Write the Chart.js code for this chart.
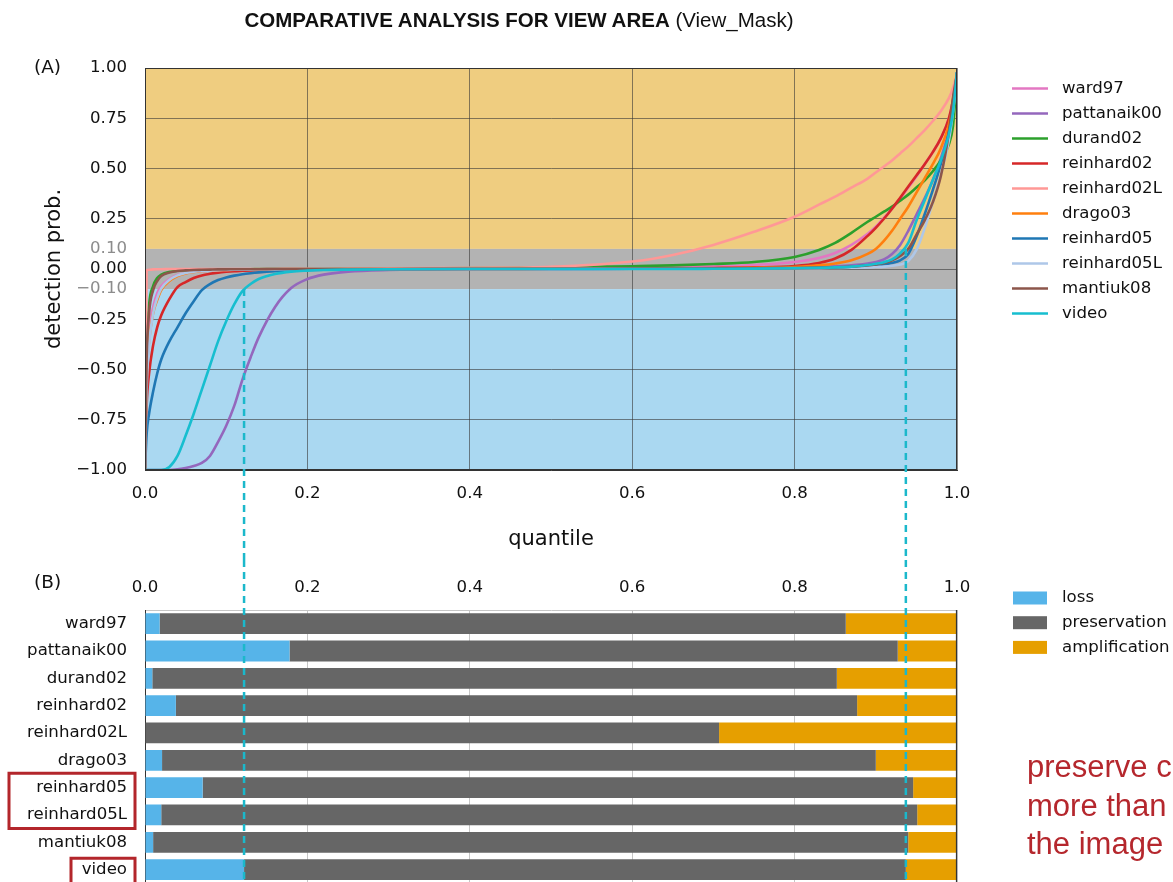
<!DOCTYPE html>
<html>
<head>
<meta charset="utf-8">
<title>Comparative analysis for view area</title>
<script src="https://cdn.jsdelivr.net/npm/chart.js@4.4.1/dist/chart.umd.min.js"></script>
<style>
  html, body { margin: 0; padding: 0; background: #fff; overflow: hidden; }
  #page { position: relative; width: 1173px; height: 882px; overflow: hidden; font-family: 'DejaVu Sans', sans-serif; color: #111; }
  #title { position: absolute; top: 8px; left: 0; width: 1038px; text-align: center; white-space: nowrap;
           font-family: 'Liberation Sans', Arial, sans-serif; font-size: 20.5px; line-height: 24px; color: #111; }
  #title b { font-weight: bold; }
  .panel { position: absolute; left: 34px; font-size: 18.5px; line-height: 20px; }
  #note { position: absolute; left: 1027px; top: 748px; white-space: nowrap;
          font-family: 'Liberation Sans', Arial, sans-serif; font-size: 31px; line-height: 38.5px; color: #b5272d; }
  canvas { position: absolute; left: 0; }
  #chartA { top: 0; }
  #chartB { top: 560px; }
</style>
</head>
<body>
<div id="page">
  <canvas id="chartA" width="1173" height="560"></canvas>
  <canvas id="chartB" width="1173" height="330"></canvas>
  <div id="title"><b>COMPARATIVE ANALYSIS FOR VIEW AREA</b> (View_Mask)</div>
  <div class="panel" style="top:57px">(A)</div>
  <div class="panel" style="top:572px">(B)</div>
  <div id="note">preserve c<br>more than<br>the image</div>
</div>
<script>
// ---- data -------------------------------------------------------------
const methods = ['ward97', 'pattanaik00', 'durand02', 'reinhard02', 'reinhard02L',
                 'drago03', 'reinhard05', 'reinhard05L', 'mantiuk08', 'video'];

// detection-probability threshold separating loss / preservation / amplification
const threshold = 0.1;

// quantile positions at which each curve is sampled
const quantiles = [0, 0.002, 0.005, 0.01, 0.015, 0.02,
  0.03, 0.04, 0.05, 0.06, 0.07, 0.08, 0.09, 0.1, 0.11, 0.12, 0.13, 0.14,
  0.16, 0.18, 0.2, 0.22, 0.25, 0.3,
  0.4, 0.5, 0.6, 0.65, 0.7, 0.75, 0.8,
  0.83, 0.85, 0.87, 0.89, 0.9, 0.91, 0.92, 0.93, 0.94, 0.95, 0.96, 0.97, 0.98, 0.99, 0.995, 1];

const ward97Curve = [-1, -0.5, -0.3, -0.19, -0.12, -0.085,
  -0.05, -0.03, -0.02, -0.014, -0.01, -0.008, -0.006, -0.005, -0.004, -0.003, -0.003, -0.002,
  -0.002, -0.001, -0.001, -0.001, 0, 0,
  0.001, 0.003, 0.006, 0.009, 0.013, 0.02, 0.035,
  0.055, 0.08, 0.12, 0.175, 0.21, 0.255, 0.3, 0.35, 0.405, 0.46, 0.52, 0.58, 0.65, 0.75, 0.84, 0.97];

const pattanaik00Curve = [-1, -1, -1, -1, -1, -1,
  -1, -0.997, -0.99, -0.98, -0.965, -0.93, -0.86, -0.78, -0.68, -0.55, -0.44, -0.34,
  -0.19, -0.095, -0.05, -0.028, -0.013, -0.005,
  -0.001, 0, 0.001, 0.002, 0.003, 0.005, 0.008,
  0.01, 0.013, 0.018, 0.027, 0.035, 0.048, 0.075, 0.12, 0.19, 0.27, 0.35, 0.44, 0.55, 0.69, 0.8, 0.98];

const durand02Curve = [-1, -0.42, -0.18, -0.085, -0.045, -0.028,
  -0.014, -0.009, -0.006, -0.004, -0.003, -0.002, -0.002, -0.001, -0.001, -0.001, -0.001, 0,
  0, 0, 0, 0.001, 0.001, 0.002,
  0.005, 0.008, 0.014, 0.018, 0.025, 0.035, 0.06,
  0.095, 0.13, 0.18, 0.235, 0.26, 0.285, 0.31, 0.34, 0.37, 0.405, 0.44, 0.485, 0.54, 0.62, 0.71, 0.95];

const reinhard02Curve = [-1, -0.68, -0.52, -0.38, -0.29, -0.23,
  -0.15, -0.09, -0.065, -0.045, -0.032, -0.024, -0.018, -0.014, -0.011, -0.009, -0.007, -0.006,
  -0.004, -0.003, -0.002, -0.001, -0.001, 0,
  0, 0.001, 0.002, 0.003, 0.005, 0.008, 0.015,
  0.03, 0.052, 0.095, 0.165, 0.205, 0.25, 0.3, 0.355, 0.41, 0.465, 0.52, 0.58, 0.65, 0.75, 0.84, 0.97];

const reinhard02LCurve = [-1, -0.006, -0.004, -0.002, -0.001, -0.001,
  0, 0, 0, 0, 0, 0, 0, 0, 0, 0, 0, 0,
  0, 0.001, 0.001, 0.001, 0.002, 0.003,
  0.006, 0.011, 0.037, 0.07, 0.12, 0.185, 0.26,
  0.32, 0.36, 0.405, 0.45, 0.48, 0.51, 0.54, 0.575, 0.61, 0.65, 0.69, 0.735, 0.785, 0.85, 0.9, 0.97];

const drago03Curve = [-1, -0.55, -0.36, -0.22, -0.155, -0.105,
  -0.06, -0.035, -0.022, -0.015, -0.01, -0.008, -0.006, -0.005, -0.004, -0.003, -0.003, -0.002,
  -0.002, -0.001, -0.001, -0.001, 0, 0,
  0, 0.001, 0.002, 0.003, 0.004, 0.006, 0.01,
  0.018, 0.027, 0.043, 0.075, 0.1, 0.14, 0.19, 0.25, 0.31, 0.38, 0.45, 0.52, 0.6, 0.72, 0.82, 0.97];

const reinhard05Curve = [-1, -0.82, -0.72, -0.61, -0.52, -0.45,
  -0.36, -0.29, -0.22, -0.16, -0.105, -0.075, -0.055, -0.042, -0.033, -0.026, -0.021, -0.017,
  -0.011, -0.007, -0.005, -0.003, -0.002, -0.001,
  0, 0, 0.001, 0.001, 0.002, 0.003, 0.005,
  0.006, 0.008, 0.01, 0.014, 0.017, 0.022, 0.03, 0.043, 0.075, 0.16, 0.27, 0.39, 0.52, 0.68, 0.8, 0.98];

const reinhard05LCurve = [-1, -0.6, -0.38, -0.22, -0.145, -0.098,
  -0.055, -0.032, -0.02, -0.014, -0.01, -0.008, -0.006, -0.005, -0.004, -0.003, -0.003, -0.002,
  -0.002, -0.001, -0.001, 0, 0, 0,
  0, 0, 0.001, 0.001, 0.001, 0.002, 0.003,
  0.004, 0.005, 0.006, 0.008, 0.01, 0.012, 0.016, 0.022, 0.04, 0.095, 0.2, 0.33, 0.47, 0.64, 0.78, 0.97];

const mantiuk08Curve = [-1, -0.45, -0.22, -0.105, -0.06, -0.035,
  -0.018, -0.01, -0.007, -0.005, -0.004, -0.003, -0.002, -0.002, -0.001, -0.001, -0.001, -0.001,
  0, 0, 0, 0, 0, 0,
  0.001, 0.001, 0.002, 0.002, 0.003, 0.003, 0.004,
  0.006, 0.008, 0.012, 0.018, 0.023, 0.03, 0.043, 0.065, 0.1, 0.17, 0.24, 0.33, 0.46, 0.68, 0.85, 0.97];

const videoCurve = [-1, -1, -1, -1, -1, -1,
  -0.985, -0.93, -0.83, -0.72, -0.6, -0.48, -0.36, -0.26, -0.175, -0.11, -0.075, -0.05,
  -0.025, -0.013, -0.008, -0.005, -0.003, -0.001,
  0, 0, 0, 0, 0.001, 0.002, 0.004,
  0.006, 0.008, 0.012, 0.02, 0.026, 0.034, 0.048, 0.078, 0.13, 0.24, 0.34, 0.44, 0.54, 0.67, 0.78, 0.98];

const curves = [ward97Curve, pattanaik00Curve, durand02Curve, reinhard02Curve, reinhard02LCurve,
                drago03Curve, reinhard05Curve, reinhard05LCurve, mantiuk08Curve, videoCurve];

// share of each image's quantiles falling below / within / above the threshold band
const lossShare          = [0.018, 0.178, 0.009, 0.038, 0.000, 0.021, 0.071, 0.020, 0.010, 0.122];
const preservationShare  = [0.845, 0.749, 0.843, 0.839, 0.707, 0.879, 0.875, 0.931, 0.930, 0.815];
const amplificationShare = [0.137, 0.073, 0.148, 0.123, 0.293, 0.100, 0.054, 0.049, 0.060, 0.063];

// y-axis tick values of the detection-probability panel
const probTicks = [1, 0.75, 0.5, 0.25, 0.1, 0, -0.1, -0.25, -0.5, -0.75, -1];

// ---- styling ----------------------------------------------------------
const lineColors = ['#e377c2', '#9467bd', '#2ca02c', '#d62728', '#ff9896',
                    '#ff7f0e', '#1f77b4', '#aec7e8', '#8c564b', '#17becf'];
const shareColors = ['#56b4e9', '#666666', '#e69f00'];
const shareNames = ['loss', 'preservation', 'amplification'];
const guideColor = '#1bb8cb';

Chart.defaults.font.family = "'DejaVu Sans', sans-serif";
Chart.defaults.color = '#111';

const PLOT_LEFT = 145, PLOT_RIGHT = 957;
const TICK_SIZE = 16.6;
const videoIdx = methods.indexOf('video');
const guideFractions = [lossShare[videoIdx], lossShare[videoIdx] + preservationShare[videoIdx]];

const isBandEdge = v => Math.abs(Math.abs(v) - threshold) < 1e-9;
const fmtSigned = (v, d) => (v < 0 ? '\u2212' : '') + Math.abs(v).toFixed(d);

function dashedVertical(ctx, x, y0, y1) {
  ctx.save();
  ctx.strokeStyle = guideColor;
  ctx.lineWidth = 2.5;
  ctx.setLineDash([7, 5]);
  ctx.beginPath();
  ctx.moveTo(x, y0);
  ctx.lineTo(x, y1);
  ctx.stroke();
  ctx.restore();
}

// ---- panel A: detection probability per quantile ----------------------
const bandPlugin = {
  id: 'bands',
  beforeDraw(chart) {
    const { ctx, chartArea: a, scales: { y } } = chart;
    const bands = [
      [threshold, y.max, '#efcd80'],
      [-threshold, threshold, '#b3b3b3'],
      [y.min, -threshold, '#aad8f1']
    ];
    ctx.save();
    bands.forEach(([lo, hi, c]) => {
      const top = y.getPixelForValue(hi), bot = y.getPixelForValue(lo);
      ctx.fillStyle = c;
      ctx.fillRect(a.left, top, a.right - a.left, bot - top);
    });
    ctx.restore();
  },
  afterDatasetsDraw(chart) {
    const { ctx, chartArea: a, scales: { x, y } } = chart;
    ctx.save();
    ctx.strokeStyle = '#333';
    ctx.lineWidth = 1;
    ctx.strokeRect(a.left + 0.5, a.top + 0.5, a.right - a.left - 1, a.bottom - a.top - 1);
    ctx.restore();
    dashedVertical(ctx, x.getPixelForValue(guideFractions[0]), y.getPixelForValue(-threshold), chart.height);
    dashedVertical(ctx, x.getPixelForValue(guideFractions[1]), y.getPixelForValue(threshold), chart.height);
  },
  afterDraw(chart) {
    const { ctx, chartArea: a } = chart;
    ctx.save();
    ctx.font = "16.6px 'DejaVu Sans', sans-serif";
    ctx.textBaseline = 'middle';
    ctx.fillStyle = '#111';
    chart.data.datasets.forEach((ds, i) => {
      const yy = 88.5 + i * 25;
      ctx.strokeStyle = ds.borderColor;
      ctx.lineWidth = 2.6;
      ctx.beginPath();
      ctx.moveTo(a.right + 55, yy);
      ctx.lineTo(a.right + 91, yy);
      ctx.stroke();
      ctx.fillText(ds.label, a.right + 105, yy);
    });
    ctx.restore();
  }
};

new Chart(document.getElementById('chartA'), {
  type: 'line',
  data: {
    datasets: methods.map((m, i) => ({
      label: m,
      data: quantiles.map((q, k) => ({ x: q, y: curves[i][k] })),
      borderColor: lineColors[i],
      backgroundColor: lineColors[i],
      borderWidth: 2.6,
      pointRadius: 0,
      fill: false,
      cubicInterpolationMode: 'monotone',
      order: methods.length - i
    }))
  },
  options: {
    responsive: false,
    animation: false,
    events: [],
    layout: { padding: { left: 0, right: 1173 - PLOT_RIGHT, top: 68, bottom: 0 } },
    plugins: { legend: { display: false }, tooltip: { enabled: false } },
    scales: {
      x: {
        type: 'linear', min: 0, max: 1,
        ticks: { stepSize: 0.2, padding: 14, font: { size: TICK_SIZE }, color: '#111',
                 callback: v => v.toFixed(1) },
        grid: { color: 'rgba(55,55,55,0.6)', lineWidth: 1, drawTicks: false },
        border: { color: '#333' },
        title: { display: true, text: 'quantile', font: { size: 21 }, color: '#111',
                 padding: { top: 0, bottom: 7.4 } },
        afterFit: s => { s.height = 90; }
      },
      y: {
        type: 'linear', min: -1, max: 1,
        afterBuildTicks: s => { s.ticks = probTicks.map(v => ({ value: v })); },
        ticks: { padding: 18, font: { size: TICK_SIZE },
                 color: c => isBandEdge(c.tick.value) ? '#8c8c8c' : '#111',
                 callback: v => fmtSigned(v, 2) },
        grid: { color: c => isBandEdge(c.tick.value) ? 'rgba(0,0,0,0)' : 'rgba(55,55,55,0.6)',
                lineWidth: 1, drawTicks: false },
        border: { color: '#333' },
        title: { display: true, text: 'detection prob.', font: { size: 21 }, color: '#111',
                 padding: { top: 42.4, bottom: 0 } },
        afterFit: s => { s.width = PLOT_LEFT; s.paddingTop = 0; s.paddingBottom = 0; }
      }
    }
  },
  plugins: [bandPlugin]
});

// ---- panel B: loss / preservation / amplification shares ---------------
const sharePlugin = {
  id: 'shareExtras',
  afterDatasetsDraw(chart) {
    const { ctx, chartArea: a, scales: { x } } = chart;
    ctx.save();
    ctx.strokeStyle = '#333';
    ctx.lineWidth = 1.2;
    ctx.beginPath();
    ctx.moveTo(a.right - 0.5, a.top);
    ctx.lineTo(a.right - 0.5, a.bottom);
    ctx.stroke();
    ctx.restore();
    guideFractions.forEach(f => dashedVertical(ctx, x.getPixelForValue(f), 0, chart.height));
  },
  afterDraw(chart) {
    const { ctx, chartArea: a, scales: { y } } = chart;
    ctx.save();
    // legend
    ctx.font = "16.6px 'DejaVu Sans', sans-serif";
    ctx.textBaseline = 'middle';
    shareNames.forEach((n, i) => {
      const yy = 38 + i * 24.7;
      ctx.fillStyle = shareColors[i];
      ctx.fillRect(a.right + 56, yy - 6.5, 34, 13);
      ctx.fillStyle = '#111';
      ctx.fillText(n, a.right + 105, yy);
    });
    // highlight boxes around selected method labels
    ctx.strokeStyle = '#b3262b';
    ctx.lineWidth = 3;
    const r05 = y.getPixelForTick(methods.indexOf('reinhard05'));
    const r05L = y.getPixelForTick(methods.indexOf('reinhard05L'));
    const vid = y.getPixelForTick(videoIdx);
    ctx.beginPath();
    ctx.rect(9, r05 - 14.5, 126, (r05L + 13.5) - (r05 - 14.5));
    ctx.rect(71, vid - 11.5, 64, 60);
    ctx.stroke();
    ctx.restore();
  }
};

const barStyle = { barPercentage: 0.76, categoryPercentage: 1, borderWidth: 0 };

new Chart(document.getElementById('chartB'), {
  type: 'bar',
  data: {
    labels: methods,
    datasets: [
      Object.assign({ label: shareNames[0], data: lossShare, backgroundColor: shareColors[0] }, barStyle),
      Object.assign({ label: shareNames[1], data: preservationShare, backgroundColor: shareColors[1] }, barStyle),
      Object.assign({ label: shareNames[2], data: amplificationShare, backgroundColor: shareColors[2] }, barStyle)
    ]
  },
  options: {
    indexAxis: 'y',
    responsive: false,
    animation: false,
    events: [],
    layout: { padding: { left: 0, right: 1173 - PLOT_RIGHT, top: 0, bottom: 6.7 } },
    plugins: { legend: { display: false }, tooltip: { enabled: false } },
    scales: {
      x: {
        type: 'linear', position: 'top', stacked: true, min: 0, max: 1,
        ticks: { stepSize: 0.2, padding: 12.4, font: { size: TICK_SIZE }, color: '#111',
                 callback: v => v.toFixed(1) },
        grid: { color: '#c6c6c6', lineWidth: 1, drawTicks: false },
        border: { color: '#c6c6c6' },
        afterFit: s => { s.height = 50; }
      },
      y: {
        stacked: true,
        ticks: { padding: 18, font: { size: TICK_SIZE }, color: '#111' },
        grid: { display: false, drawTicks: false },
        border: { color: '#333' },
        afterFit: s => { s.width = PLOT_LEFT; s.paddingTop = 0; s.paddingBottom = 0; }
      }
    }
  },
  plugins: [sharePlugin]
});
</script>
</body>
</html>
